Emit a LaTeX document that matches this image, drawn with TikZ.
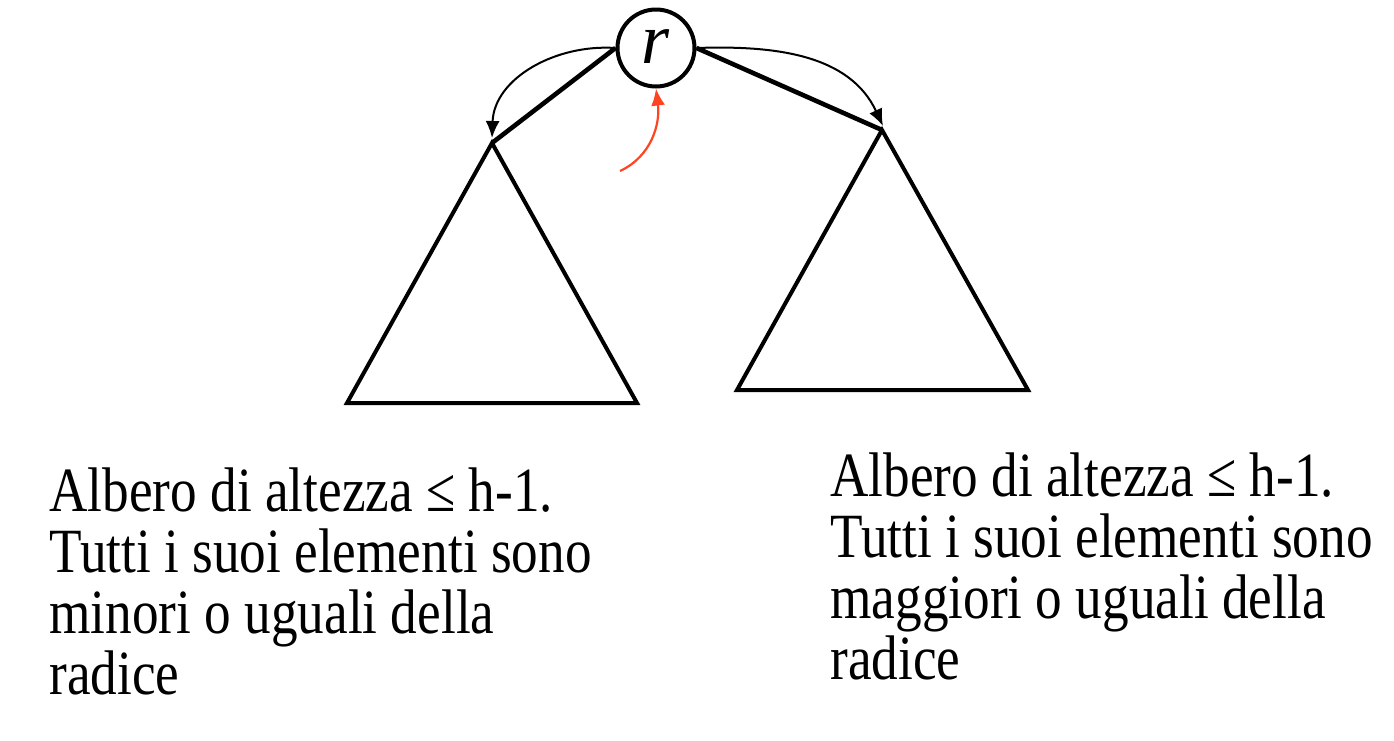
\documentclass[tikz,border=0pt]{standalone}
\usepackage{fontspec}
\setmainfont{Liberation Serif}[FakeStretch=0.845]
\newfontfamily\rfont{Liberation Serif}
\usetikzlibrary{arrows.meta}
\definecolor{redarrow}{HTML}{FF4422}
\tikzset{
  tri/.style={line width=2pt, line join=miter},
  edgeline/.style={line width=2.3pt},
  curvearrow/.style={line width=1pt, -{Latex[length=8.5pt,width=7pt]}},
  redcurve/.style={line width=1.1pt, draw=redarrow, -{Latex[length=8.5pt,width=7pt]}},
  textblock/.style={anchor=north west, inner sep=0pt, align=left,
    font={\fontsize{31.5pt}{30.5pt}\selectfont}},
  rootnode/.style={circle, draw, line width=2pt, minimum size=38.5pt, inner sep=0pt,
    font={\rfont\fontsize{36pt}{36pt}\selectfont\itshape}}
}
\begin{document}
\begin{tikzpicture}[x=0.5pt,y=-0.5pt]
\useasboundingbox (0,0) rectangle (1394,740);
% root
\node[rootnode] (r) at (656,48) {\raisebox{1pt}{r}};
% left subtree
\coordinate (la) at (492,143);
\coordinate (lbl) at (347,403);
\coordinate (lbr) at (637,403);
\draw[tri] (la) -- (lbl) -- (lbr) -- cycle;
% right subtree
\coordinate (ra) at (882,130);
\coordinate (rbl) at (737,390);
\coordinate (rbr) at (1028,390);
\draw[tri] (ra) -- (rbl) -- (rbr) -- cycle;
% edges
\draw[edgeline] (r.west) -- (la);
\draw[edgeline] (r.east) -- (ra);
% curved arrows
\coordinate (lt) at (492,138);
\coordinate (rt) at (883,126);
\draw[curvearrow] (r.west) to[out=176,in=88] (lt);
\draw[curvearrow] (r.east) to[out=2,in=115] (rt);
% red arrow
\coordinate (rs) at (620,171);
\draw[redcurve] (rs) to[out=25,in=-83] (r.south);
% texts
\node[textblock] (lt1) at (49,467) {Albero di altezza ≤ h-1.\\Tutti i suoi elementi sono\\minori o uguali della\\radice};
\node[textblock] (rt1) at (830,452) {Albero di altezza ≤ h-1.\\Tutti i suoi elementi sono\\maggiori o uguali della\\radice};
\end{tikzpicture}
\end{document}
